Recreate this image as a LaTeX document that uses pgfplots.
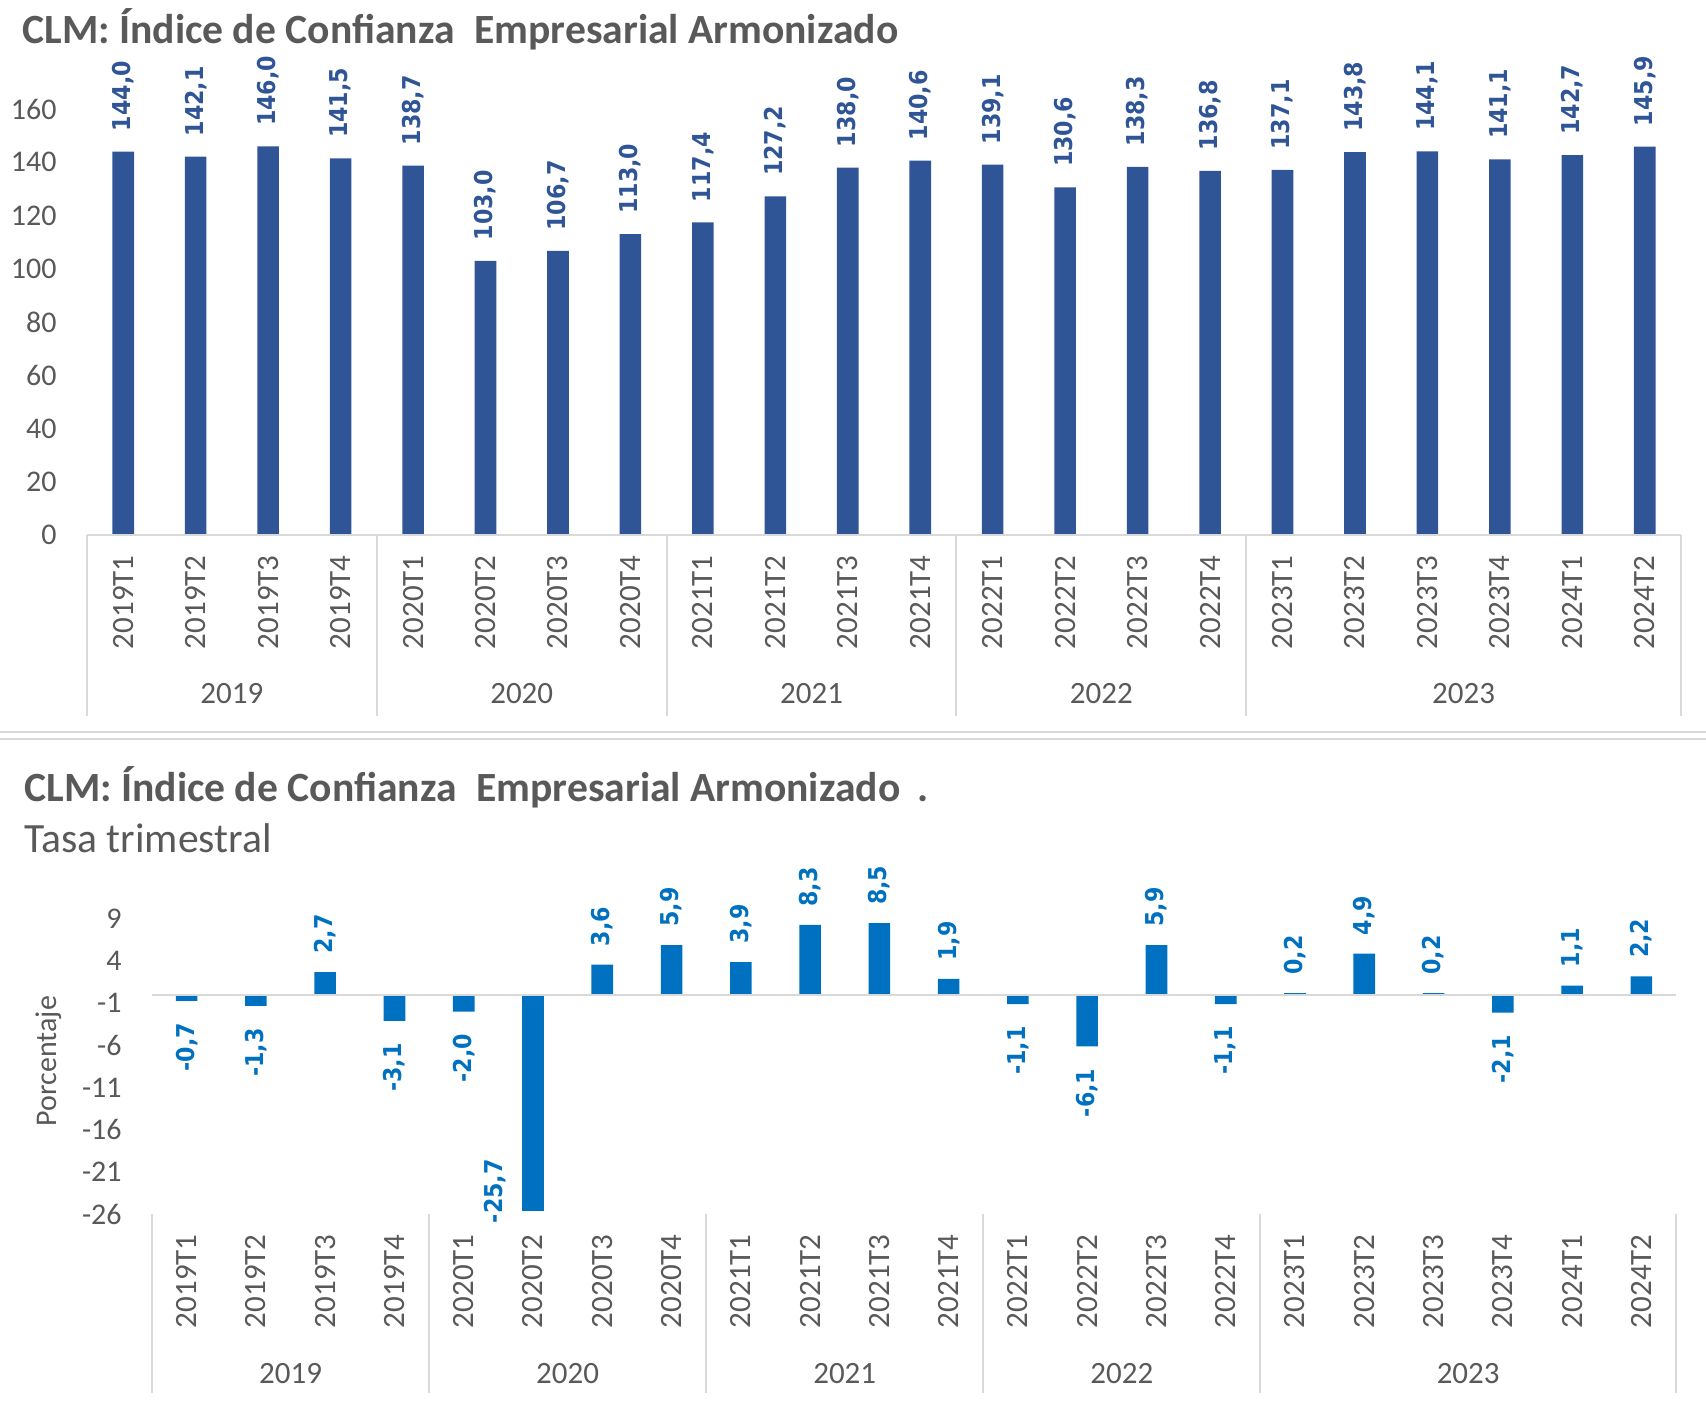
\documentclass[border=0pt]{standalone}
\usepackage{fontspec}
\setmainfont{Carlito}
\newfontfamily\lblfont[FakeStretch=0.9]{DejaVu Sans}
\usepackage{pgfplots}
\usepackage{pgfplotstable}
\pgfplotsset{compat=1.18}
\definecolor{darkblue}{HTML}{2F5597}
\definecolor{midblue}{HTML}{0070C0}
\definecolor{txtgray}{HTML}{595959}
\definecolor{linegray}{HTML}{D9D9D9}

\pgfplotstableread{
x y
0 144.0
1 142.1
2 146.0
3 141.5
4 138.7
5 103.0
6 106.7
7 113.0
8 117.4
9 127.2
10 138.0
11 140.6
12 139.1
13 130.6
14 138.3
15 136.8
16 137.1
17 143.8
18 144.1
19 141.1
20 142.7
21 145.9
}\topdata

\pgfplotstableread{
x y
2 2.7
6 3.6
7 5.9
8 3.9
9 8.3
10 8.5
11 1.9
14 5.9
16 0.2
17 4.9
18 0.2
20 1.1
21 2.2
}\botpos

\pgfplotstableread{
x y
0 -0.7
1 -1.3
3 -3.1
4 -2.0
12 -1.1
13 -6.1
15 -1.1
19 -2.1
}\botneg

\pgfplotstableread{
x y
5 -25.7
}\botspecial

\tikzset{
  lbl/.style={font=\lblfont\bfseries\fontsize{12.3}{13}\selectfont, inner sep=0pt},
  yearlbl/.style={font=\fontsize{15.5}{16}\selectfont, text=txtgray},
}
\pgfplotsset{
  mybase/.style={
    scale only axis, clip=false,
    xmin=-0.5, xmax=21.5,
    axis line style={draw=none},
    major tick length=0pt,
    xtick={0,...,21},
    xticklabels={2019T1,2019T2,2019T3,2019T4,2020T1,2020T2,2020T3,2020T4,2021T1,2021T2,2021T3,2021T4,2022T1,2022T2,2022T3,2022T4,2023T1,2023T2,2023T3,2023T4,2024T1,2024T2},
    xticklabel style={rotate=90, anchor=east, inner xsep=10pt, inner ysep=0pt,
      font=\fontsize{15.5}{16}\selectfont, text=txtgray},
    yticklabel style={inner xsep=0pt, xshift=-15pt,
      font=\fontsize{15}{16}\selectfont, text=txtgray},
    /pgf/number format/assume math mode=true,
    ybar, bar width=10.8pt, bar shift=0pt,
    nodes near coords={\pgfmathprintnumber[fixed,fixed zerofill,precision=1,use comma,assume math mode=true]{\pgfplotspointmeta}},
  },
}

\begin{document}
\begin{tikzpicture}
\path[use as bounding box] (0,0) rectangle (853pt,705pt);

% ---------- top title ----------
\node[anchor=west, inner sep=0pt, font=\bfseries\fontsize{20.8}{22}\selectfont, text=txtgray]
  at (11pt,690.5pt) {CLM: Índice de Confianza\hspace{0.25em} Empresarial Armonizado};

\begin{axis}[mybase,
  at={(43.5pt,437.5pt)}, anchor=south west,
  width=797pt, height=213pt,
  ymin=0, ymax=160, ytick={0,20,...,160},
]
\addplot[fill=darkblue, draw=none,
  nodes near coords style={lbl, text=darkblue, yshift=10pt, rotate=90, anchor=west}]
  table[x=x,y=y]{\topdata};
\draw[linegray, line width=1pt] (axis cs:-0.5,0) -- (axis cs:21.5,0);
\pgfplotsinvokeforeach{-0.5,3.5,7.5,11.5,15.5,21.5}{
  \draw[linegray, line width=1pt] (axis cs:#1,0) -- ([yshift=-90.5pt]axis cs:#1,0);
}
\node[yearlbl] at (axis cs:1.5,0) [yshift=-79.5pt] {2019};
\node[yearlbl] at (axis cs:5.5,0) [yshift=-79.5pt] {2020};
\node[yearlbl] at (axis cs:9.5,0) [yshift=-79.5pt] {2021};
\node[yearlbl] at (axis cs:13.5,0) [yshift=-79.5pt] {2022};
\node[yearlbl] at (axis cs:18.5,0) [yshift=-79.5pt] {2023};
\end{axis}

% ---------- divider ----------
\draw[color=linegray, line width=1.3pt] (0,339pt) -- (853pt,339pt);
\draw[color=linegray, line width=1.3pt] (0,335.5pt) -- (853pt,335.5pt);

% ---------- bottom titles ----------
\node[anchor=west, inner sep=0pt, font=\bfseries\fontsize{20.8}{22}\selectfont, text=txtgray]
  at (12pt,311.5pt) {CLM: Índice de Confianza\hspace{0.25em} Empresarial Armonizado\hspace{0.4em}.};
\node[anchor=west, inner sep=0pt, font=\fontsize{20.8}{22}\selectfont, text=txtgray]
  at (12pt,286pt) {Tasa trimestral};
\node[rotate=90, font=\fontsize{15}{16}\selectfont, text=txtgray] at (24.5pt,174.5pt) {Porcentaje};

\begin{axis}[mybase,
  at={(76pt,98pt)}, anchor=south west,
  width=762pt, height=147.5pt,
  ymin=-26, ymax=9, ytick={-26,-21,...,9},
]
\addplot[fill=midblue, draw=none,
  nodes near coords style={lbl, text=midblue, yshift=9pt, rotate=90, anchor=west}]
  table[x=x,y=y]{\botpos};
\addplot[fill=midblue, draw=none,
  nodes near coords style={lbl, text=midblue, yshift=-11pt, rotate=90, anchor=east}]
  table[x=x,y=y]{\botneg};
\addplot[fill=midblue, draw=none,
  nodes near coords style={lbl, text=midblue, xshift=-19pt, yshift=-6pt, rotate=90, anchor=west}]
  table[x=x,y=y]{\botspecial};
\draw[linegray, line width=1pt] (axis cs:-0.5,0) -- (axis cs:21.5,0);
\pgfplotsinvokeforeach{-0.5,3.5,7.5,11.5,15.5,21.5}{
  \draw[linegray, line width=1pt] (axis cs:#1,-26) -- ([yshift=-89.5pt]axis cs:#1,-26);
}
\node[yearlbl] at (axis cs:1.5,-26) [yshift=-80pt] {2019};
\node[yearlbl] at (axis cs:5.5,-26) [yshift=-80pt] {2020};
\node[yearlbl] at (axis cs:9.5,-26) [yshift=-80pt] {2021};
\node[yearlbl] at (axis cs:13.5,-26) [yshift=-80pt] {2022};
\node[yearlbl] at (axis cs:18.5,-26) [yshift=-80pt] {2023};
\end{axis}
\end{tikzpicture}
\end{document}
